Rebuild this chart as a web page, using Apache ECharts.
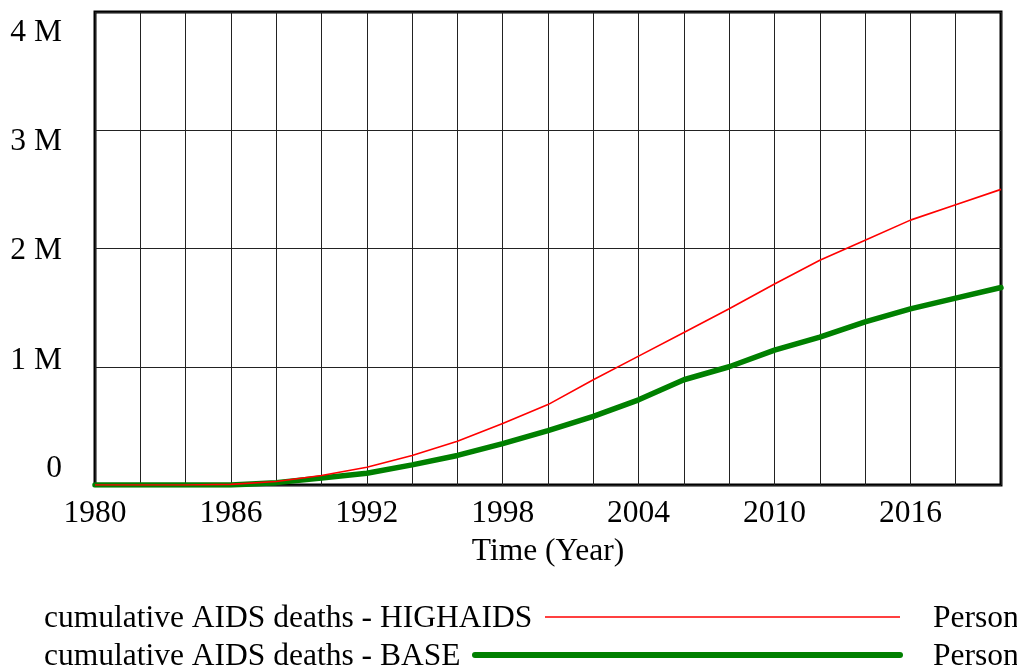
<!DOCTYPE html>
<html>
<head>
    <meta charset="utf-8">
    <title>cumulative AIDS deaths</title>
    <style>
        html, body { margin: 0; padding: 0; background: #fff; }
        #chart { width: 1017px; height: 671px; }
    </style>
</head>
<body>
<div id="chart"></div>
<script src="https://cdn.jsdelivr.net/npm/echarts@6/dist/echarts.min.js"></script>
<script>
    // years (every 2 years)
    var years = [1980, 1982, 1984, 1986, 1988, 1990, 1992, 1994, 1996, 1998, 2000,
                 2002, 2004, 2006, 2008, 2010, 2012, 2014, 2016, 2018, 2020];
    // cumulative AIDS deaths, in millions of persons
    var highAids = [0, 0, 0, 0.005, 0.03, 0.08, 0.15, 0.25, 0.37, 0.52, 0.68,
                    0.89, 1.09, 1.29, 1.49, 1.70, 1.90, 2.07, 2.24, 2.37, 2.50];
    var base = [0, 0, 0, 0, 0.02, 0.06, 0.10, 0.17, 0.25, 0.35, 0.46,
                0.58, 0.72, 0.89, 1.00, 1.14, 1.25, 1.38, 1.49, 1.58, 1.67];
    var yTickLabels = ['0', '1 M', '2 M', '3 M', '4 M'];
    var seriesNames = ['cumulative AIDS deaths - HIGHAIDS', 'cumulative AIDS deaths - BASE'];
    var unitName = 'Person';

    var FONT = '"Liberation Serif", "Times New Roman", serif';
    var FS = 31.5;

    function toPairs(vals) {
        var out = [];
        for (var i = 0; i < years.length; i++) {
            out.push([years[i], vals[i] * 1e6]);
        }
        return out;
    }

    // vensim style: tick labels spread a bit inside the axis range
    var lblStyle = function (pad) {
        return { fontFamily: FONT, fontSize: FS, color: '#000', padding: pad };
    };

    var chart = echarts.init(document.getElementById('chart'));
    var option = {
        animation: false,
        backgroundColor: '#fff',
        textStyle: { fontFamily: FONT },
        grid: {
            left: 95, right: 16, top: 12, bottom: 186,
            show: true, borderColor: '#000', borderWidth: 3, backgroundColor: 'transparent'
        },
        xAxis: {
            type: 'value',
            min: 1980, max: 2020, interval: 2,
            name: 'Time (Year)',
            nameLocation: 'middle',
            nameGap: 51,
            nameTextStyle: { fontFamily: FONT, fontSize: FS, color: '#000' },
            axisLine: { show: false },
            axisTick: { show: false },
            splitLine: { show: true, lineStyle: { color: '#222', width: 1 } },
            axisLabel: {
                fontFamily: FONT, fontSize: FS, color: '#000', margin: 13,
                formatter: function (v) {
                    return (v - 1980) % 6 === 0 && v < 2020 ? String(v) : '';
                }
            }
        },
        yAxis: {
            type: 'value',
            min: 0, max: 4e6, interval: 1e6,
            axisLine: { show: false },
            axisTick: { show: false },
            splitLine: { show: true, lineStyle: { color: '#222', width: 1 } },
            axisLabel: {
                fontFamily: FONT, fontSize: FS, color: '#000', margin: 33,
                formatter: function (v) {
                    var i = Math.round(v / 1e6);
                    return '{l' + i + '|' + yTickLabels[i] + '}';
                },
                rich: {
                    l0: lblStyle([0, 0, 33, 0]),
                    l1: lblStyle([0, 0, 13, 0]),
                    l2: lblStyle([4, 0, 0, 0]),
                    l3: lblStyle([23, 0, 0, 0]),
                    l4: lblStyle([42, 0, 0, 0])
                }
            }
        },
        series: [
            {
                name: seriesNames[1],
                type: 'line',
                data: toPairs(base),
                showSymbol: false,
                lineStyle: { color: '#008000', width: 5.5, cap: 'round', join: 'round' },
                z: 2
            },
            {
                name: seriesNames[0],
                type: 'line',
                data: toPairs(highAids),
                showSymbol: false,
                lineStyle: { color: '#ff0000', width: 1.6 },
                z: 3
            }
        ],
        graphic: [
            // legend, vensim style: name, line sample, unit
            { type: 'text', left: 44, top: 603, style: { text: seriesNames[0], font: FS + 'px ' + FONT, fill: '#000' } },
            { type: 'line', shape: { x1: 545, y1: 617, x2: 900, y2: 617 }, style: { stroke: '#ff0000', lineWidth: 1.6 } },
            { type: 'text', left: 933, top: 603, style: { text: unitName, font: FS + 'px ' + FONT, fill: '#000' } },
            { type: 'text', left: 44, top: 641, style: { text: seriesNames[1], font: FS + 'px ' + FONT, fill: '#000' } },
            { type: 'line', shape: { x1: 475, y1: 655, x2: 900, y2: 655 }, style: { stroke: '#008000', lineWidth: 6, lineCap: 'round' } },
            { type: 'text', left: 933, top: 641, style: { text: unitName, font: FS + 'px ' + FONT, fill: '#000' } }
        ]
    };
    chart.setOption(option);
</script>
</body>
</html>
